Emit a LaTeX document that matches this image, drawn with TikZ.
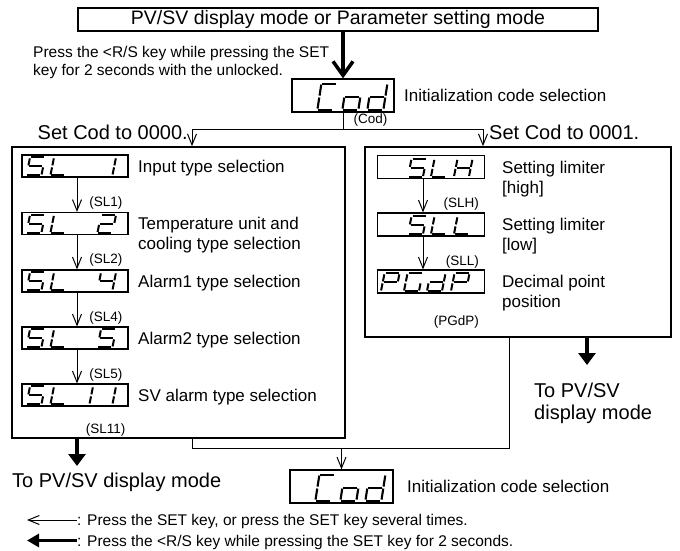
\documentclass[tikz,border=0pt]{standalone}
\usepackage{fontspec}
\setmainfont{Liberation Sans}
\usetikzlibrary{arrows.meta,calc}

% segment lists: u1/v1/u2/v2 in a unit cell (v up)
\newcommand{\dgS}{0/1/1/1,0/1/0/.5,0/.5/1/.5,1/.5/1/0,0/0/1/0}
\newcommand{\dgFive}{\dgS}
\newcommand{\dgL}{0/1/0/.5,0/.5/0/0,0/0/1/0}
\newcommand{\dgOne}{1/1/1/.5,1/.5/1/0}
\newcommand{\dgTwo}{0/1/1/1,1/1/1/.5,0/.5/1/.5,0/.5/0/0,0/0/1/0}
\newcommand{\dgFour}{0/1/0/.5,0/.5/1/.5,1/1/1/.5,1/.5/1/0}
\newcommand{\dgH}{1/1/1/.5,1/.5/1/0,0/.5/0/0,0/1/0/.5,0/.5/1/.5}
\newcommand{\dgP}{0/1/1/1,1/1/1/.5,0/1/0/.5,0/.5/1/.5,0/.5/0/0}
\newcommand{\dgG}{0/1/1/1,0/1/0/.5,0/.5/0/0,0/0/1/0,1/.5/1/0}
\newcommand{\dgC}{0/1/1/1,0/1/0/.5,0/.5/0/0,0/0/1/0}
\newcommand{\dgo}{0/.5/1/.5,1/.5/1/0,0/0/1/0,0/.5/0/0}
\newcommand{\dgd}{1/1/1/.5,1/.5/1/0,0/0/1/0,0/.5/0/0,0/.5/1/.5}

% #1 display node, #2 digit size, #3 offset/letter list
\newcommand{\segdisp}[3]{%
  \foreach \off/\dg in {#3} {%
    \edef\seglist{\csname dg\dg\endcsname}%
    \begin{scope}[shift={($(#1.south west)+(\off,0)$)}, #2]
      \foreach \ua/\va/\ub/\vb in \seglist {\draw[segline] (\ua,\va) -- (\ub,\vb);}
    \end{scope}}}

\tikzset{
  segline/.style={line width=2pt, shorten <=1pt, shorten >=1pt},
  segsmall/.style={yshift=2.2pt, x={(15pt,0pt)}, y={(3.6pt,18pt)}},
  segbig/.style={yshift=3pt, x={(16pt,0pt)}, y={(4pt,26pt)}, segline/.append style={line width=2.1pt}},
  disp/.style={draw, line width=1.2pt, minimum width=106pt, minimum height=22pt, inner sep=0pt},
  coddisp/.style={draw, line width=1.2pt, minimum width=102pt, minimum height=33pt, inner sep=0pt},
  frame/.style={draw, line width=1.6pt, inner sep=0pt},
  txt/.style={font=\fontsize{17}{20}\selectfont, align=left, inner sep=0pt, anchor=north west},
  big/.style={font=\fontsize{20}{22}\selectfont, align=left, inner sep=0pt},
  note/.style={font=\fontsize{15.5}{18}\selectfont, align=left, inner sep=0pt},
  tag/.style={font=\fontsize{13.5}{15}\selectfont, inner sep=0pt, anchor=east},
  setarrow/.style={line width=1pt, -{Straight Barb[length=11pt,width=9pt]}},
  keyarrow/.style={line width=3.5pt, -{Straight Barb[length=14pt,width=20pt]}},
  modearrow/.style={line width=3.5pt, -{Triangle[length=12pt,width=17pt]}},
}

\begin{document}
\begin{tikzpicture}[x=1pt, y=-1pt]
    \useasboundingbox (0,0) rectangle (680,551);

    % top
    \node[frame, minimum width=520pt, minimum height=23pt, font=\fontsize{19.5}{22}\selectfont] (mode) at (338,19.5) {PV/SV display mode or Parameter setting mode};
    \node[note, anchor=north west] (keynote) at (33,46) {Press the <R/S key while pressing the SET\\key for 2 seconds with the unlocked.};
    \node[coddisp] (cod1) at (343,95.5) {};
    \node[txt] (tcod1) at (404,89) {Initialization code selection};
    \node[tag] (tagcod) at ([shift={(-7,7.5)}]cod1.south east) {(Cod)};
    \draw[keyarrow] (mode.south -| cod1) -- (cod1.north);
    \segdisp{cod1}{segbig}{26/C,51/o,76/d}

    % branches
    \coordinate (forkL) at (192,129); \coordinate (forkR) at (483,129);
    \node[big, anchor=base east] (set0) at (188,139) {Set Cod to 0000.};
    \node[big, anchor=base west] (set1) at (489,139) {Set Cod to 0001.};

    % Cod = 0000
    \node[frame, minimum width=333pt, minimum height=291pt] (slgroup) at (178.5,292.5) {};
    \node[disp] (sl1) at (75,166) {};  \node[txt] (tsl1) at (138,159.6) {Input type selection};
    \node[disp] (sl2) at (75,223.5) {}; \node[txt] (tsl2) at (138,217.1) {Temperature unit and\\cooling type selection};
    \node[disp] (sl4) at (75,281) {};  \node[txt] (tsl4) at (138,274.6) {Alarm1 type selection};
    \node[disp] (sl5) at (75,338) {};  \node[txt] (tsl5) at (138,331.6) {Alarm2 type selection};
    \node[disp] (sl11) at (75,395) {}; \node[txt] (tsl11) at (138,388.6) {SV alarm type selection};
    \segdisp{sl1}{segsmall}{5/S,29/L,76/One}
    \segdisp{sl2}{segsmall}{5/S,29/L,76/Two}
    \segdisp{sl4}{segsmall}{5/S,29/L,76/Four}
    \segdisp{sl5}{segsmall}{5/S,29/L,76/Five}
    \segdisp{sl11}{segsmall}{5/S,29/L,53/One,76/One}
    \draw[setarrow] ([xshift=2pt]sl1.south) -- ([xshift=2pt]sl2.north);
    \draw[setarrow] ([xshift=2pt]sl2.south) -- ([xshift=2pt]sl4.north);
    \draw[setarrow] ([xshift=2pt]sl4.south) -- ([xshift=2pt]sl5.north);
    \draw[setarrow] ([xshift=2pt]sl5.south) -- ([xshift=2pt]sl11.north);
    \node[tag] (tagsl1) at ([shift={(-6,25)}]sl1.south east) {(SL1)};
    \node[tag] (tagsl2) at ([shift={(-6,25)}]sl2.south east) {(SL2)};
    \node[tag] (tagsl4) at ([shift={(-6,25)}]sl4.south east) {(SL4)};
    \node[tag] (tagsl5) at ([shift={(-6,25)}]sl5.south east) {(SL5)};
    \node[tag] (tagsl11) at ([shift={(-3,23)}]sl11.south east) {(SL11)};

    % Cod = 0001
    \node[frame, minimum width=306pt, minimum height=190pt] (limgroup) at (518,242) {};
    \node[disp, minimum width=107pt, minimum height=23pt] (slh) at (431,167) {};  \node[txt] (tslh) at (502,160.6) {Setting limiter\\{[high]}};
    \node[disp, minimum width=107pt, minimum height=23pt] (sll) at (431,224.5) {}; \node[txt] (tsll) at (502,218.1) {Setting limiter\\{[low]}};
    \node[disp, minimum width=107pt, minimum height=23pt] (pgdp) at (431,281.5) {}; \node[txt] (tpgdp) at (502,275.1) {Decimal point\\position};
    \segdisp{slh}{segsmall}{31/S,54/L,77/H}
    \segdisp{sll}{segsmall}{31/S,54/L,77/L}
    \segdisp{pgdp}{segsmall}{4/P,27/G,50/d,74/P}
    \draw[setarrow] ([xshift=-8pt]slh.south) -- ([xshift=-8pt]sll.north);
    \draw[setarrow] ([xshift=-8pt]sll.south) -- ([xshift=-8pt]pgdp.north);
    \node[tag] (tagslh) at ([shift={(-6,25)}]slh.south east) {(SLH)};
    \node[tag] (tagsll) at ([shift={(-6,25)}]sll.south east) {(SLL)};
    \node[tag] (tagpgdp) at ([shift={(-6,28)}]pgdp.south east) {(PGdP)};

    \draw (cod1.south) -- (cod1.south |- forkL);
    \draw[setarrow] (forkR) -- (forkL) -- (forkL |- slgroup.north);
    \draw[setarrow] (cod1.south |- forkR) -- (forkR) -- (forkR |- limgroup.north);

    % exits
    \coordinate (outL) at (77,466); \coordinate (outR) at (587,365);
    \draw[modearrow] (slgroup.south -| outL) -- (outL);
    \draw[modearrow] (limgroup.south -| outR) -- (outR);
    \node[big, anchor=base west] (liveL) at (12,487) {To PV/SV display mode};
    \node[big, anchor=north west] (liveR) at (534,382.4) {To PV/SV\\display mode};

    % back to Cod
    \node[coddisp, minimum width=103pt] (cod2) at (341.5,486.5) {};
    \node[txt] (tcod2) at (407,480) {Initialization code selection};
    \segdisp{cod2}{segbig}{26/C,51/o,76/d}
    \coordinate (joinL) at (192,448); \coordinate (joinR) at (509,448);
    \draw (slgroup.south -| joinL) -- (joinL) -- (joinR) -- (limgroup.south -| joinR);
    \draw[setarrow] (cod2.north |- joinL) -- (cod2.north);

    % legend
    \node[note, anchor=base west] (legset) at (77,525.5) {: Press the SET key, or press the SET key several times.};
    \node[note, anchor=base west] (legrs) at (77,546) {: Press the <R/S key while pressing the SET key for 2 seconds.};
    \coordinate (legA) at (27,520); \coordinate (legB) at (27,540.5);
    \draw[setarrow] (legset.west |- legA) -- (legA);
    \draw[line width=3pt, -{Triangle[length=12pt,width=13pt]}] (legrs.west |- legB) -- (legB);
\end{tikzpicture}
\end{document}
